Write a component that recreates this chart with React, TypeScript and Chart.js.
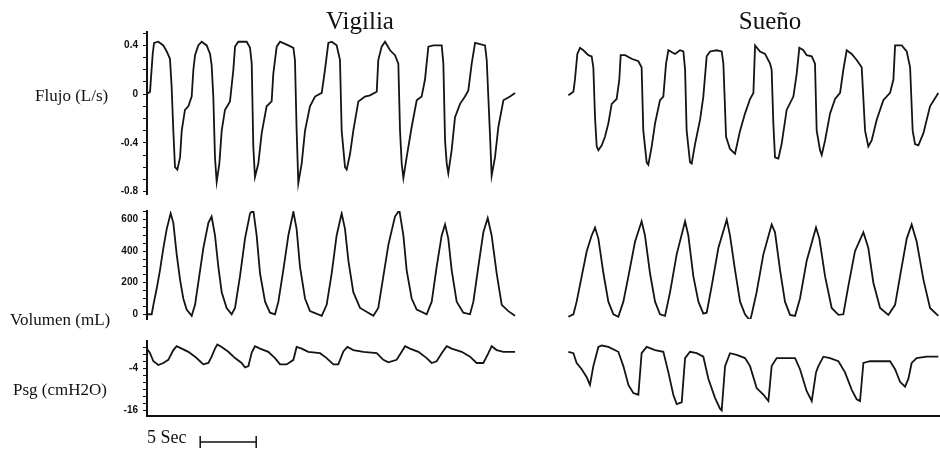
import React, { useEffect, useRef } from 'react';
import { Chart, registerables } from 'chart.js';

Chart.register(...registerables);

// ---------- DATA (time in seconds, value in axis units) ----------
const TIME_MAX = 70.8;
const SCALE_BAR_START = 4.75;
const SCALE_BAR_SECONDS = 5;

const flujoVigilia: [number, number][] = [
  [0, 0], [0.27, 0.02], [0.51, 0.33], [0.63, 0.42], [1.01, 0.43], [1.46, 0.4], [1.76, 0.35], [2.05, 0.29], [2.2, 0.06], [2.35, -0.3],
  [2.5, -0.6], [2.71, -0.62], [2.95, -0.52], [3.1, -0.3], [3.39, -0.13], [3.69, -0.1], [3.99, -0.02], [4.14, 0.2], [4.29, 0.32], [4.58, 0.4],
  [4.88, 0.43], [5.33, 0.4], [5.63, 0.33], [5.77, 0.24], [5.92, -0.02], [6.07, -0.52], [6.22, -0.72], [6.46, -0.57], [6.67, -0.3], [6.96, -0.13],
  [7.41, -0.06], [7.71, 0.2], [7.86, 0.39], [8.15, 0.43], [8.9, 0.43], [9.2, 0.38], [9.35, 0.25], [9.49, -0.43], [9.64, -0.68], [9.94, -0.57],
  [10.24, -0.32], [10.68, -0.1], [11.13, -0.06], [11.28, 0.17], [11.58, 0.39], [11.88, 0.43], [12.62, 0.4], [13.07, 0.38], [13.21, 0.28], [13.36, -0.3],
  [13.51, -0.73], [13.81, -0.57], [14.11, -0.3], [14.55, -0.1], [15.0, -0.02], [15.6, 0.01], [15.89, 0.2], [16.19, 0.42], [16.49, 0.43], [16.93, 0.4],
  [17.23, 0.28], [17.38, -0.3], [17.68, -0.6], [17.83, -0.62], [18.13, -0.49], [18.42, -0.3], [18.87, -0.06], [19.46, -0.02], [19.91, -0.01], [20.51, 0.02],
  [20.65, 0.28], [20.95, 0.39], [21.25, 0.43], [21.7, 0.36], [22.14, 0.32], [22.44, 0.25], [22.59, -0.3], [22.74, -0.57], [22.89, -0.69], [23.18, -0.52],
  [23.63, -0.27], [24.08, -0.05], [24.52, -0.02], [24.82, 0.12], [25.12, 0.39], [25.57, 0.4], [26.31, 0.4], [26.46, 0.25], [26.61, -0.38], [26.76, -0.57],
  [26.9, -0.65], [27.2, -0.46], [27.5, -0.19], [27.95, -0.08], [28.39, -0.02], [28.69, 0.03], [28.99, 0.25], [29.29, 0.42], [30.18, 0.4], [30.33, 0.28],
  [30.63, -0.35], [30.77, -0.67], [31.07, -0.52], [31.37, -0.27], [31.82, -0.05], [32.41, -0.02], [32.86, 0.01],
];

const flujoSueno: [number, number][] = [
  [37.62, -0.01], [38.07, 0.02], [38.21, 0.12], [38.42, 0.33], [38.66, 0.38], [38.96, 0.36], [39.4, 0.32], [39.7, 0.31], [39.85, 0.22], [40.0, -0.19],
  [40.15, -0.43], [40.3, -0.46], [40.6, -0.42], [40.89, -0.35], [41.19, -0.24], [41.49, -0.08], [41.93, -0.04], [42.17, 0.12], [42.29, 0.32], [42.68, 0.32],
  [43.27, 0.29], [43.87, 0.27], [44.16, 0.22], [44.31, -0.3], [44.61, -0.56], [44.76, -0.58], [45.06, -0.43], [45.36, -0.24], [45.8, -0.05], [46.1, -0.02],
  [46.34, 0.25], [46.55, 0.36], [47.14, 0.33], [47.59, 0.36], [47.89, 0.35], [48.04, 0.2], [48.18, -0.3], [48.48, -0.56], [48.63, -0.57], [48.93, -0.41],
  [49.38, -0.21], [49.67, -0.02], [49.97, 0.31], [50.27, 0.35], [50.86, 0.36], [51.31, 0.35], [51.46, 0.25], [51.7, -0.35], [52.05, -0.45], [52.5, -0.49],
  [52.95, -0.3], [53.39, -0.16], [53.84, -0.04], [54.14, 0.01], [54.29, 0.4], [54.73, 0.35], [55.18, 0.33], [55.63, 0.25], [55.77, 0.2], [55.92, -0.24],
  [56.07, -0.52], [56.37, -0.53], [56.66, -0.41], [57.11, -0.13], [57.71, -0.02], [58.01, 0.17], [58.24, 0.38], [58.6, 0.36], [58.9, 0.32], [59.35, 0.31],
  [59.64, 0.25], [59.79, -0.3], [60.09, -0.46], [60.24, -0.5], [60.54, -0.38], [60.98, -0.16], [61.43, -0.04], [61.88, 0.01], [62.17, 0.2], [62.47, 0.36],
  [62.92, 0.33], [63.36, 0.28], [63.81, 0.22], [64.11, -0.3], [64.4, -0.43], [64.7, -0.38], [65.15, -0.21], [65.74, -0.05], [66.34, 0.01], [66.64, 0.12],
  [66.79, 0.4], [67.38, 0.4], [67.83, 0.35], [68.13, 0.22], [68.36, -0.3], [68.57, -0.41], [68.87, -0.42], [69.32, -0.32], [69.91, -0.1], [70.65, 0.01],
];

const volumenVigilia: [number, number][] = [
  [0, 0], [0.42, 0], [0.57, 60], [0.86, 160], [1.16, 280], [1.46, 420], [1.76, 540], [2.11, 640], [2.35, 580], [2.65, 380],
  [2.95, 220], [3.24, 100], [3.54, 30], [3.99, -10], [4.29, 60], [4.58, 200], [5.03, 420], [5.48, 580], [5.77, 620], [6.07, 500],
  [6.37, 300], [6.67, 140], [7.11, 40], [7.56, 0], [7.86, 40], [8.3, 240], [8.75, 480], [9.2, 640], [9.49, 660], [9.79, 500],
  [10.09, 260], [10.54, 80], [10.98, 10], [11.43, 0], [11.73, 80], [12.17, 280], [12.62, 500], [13.07, 650], [13.36, 540], [13.66, 300],
  [14.11, 100], [14.55, 20], [15.6, -10], [16.04, 60], [16.49, 260], [16.93, 500], [17.38, 640], [17.68, 540], [17.98, 340], [18.42, 140],
  [19.02, 40], [20.21, -10], [20.65, 40], [21.1, 240], [21.55, 440], [22.14, 620], [22.53, 660], [22.89, 500], [23.18, 280], [23.63, 100],
  [24.08, 30], [24.97, 0], [25.42, 80], [25.86, 300], [26.31, 500], [26.61, 570], [26.9, 480], [27.2, 280], [27.65, 80], [28.24, 10],
  [28.84, 0], [29.14, 80], [29.58, 300], [30.03, 520], [30.42, 610], [30.77, 500], [31.22, 260], [31.67, 60], [32.26, 20], [32.86, -10],
];

const volumenSueno: [number, number][] = [
  [37.62, -16], [38.07, 0], [38.36, 80], [38.81, 240], [39.26, 400], [39.7, 500], [40.0, 550], [40.3, 480], [40.75, 260], [41.19, 80],
  [41.64, 0], [42.08, -16], [42.53, 80], [42.98, 240], [43.57, 460], [44.16, 590], [44.46, 500], [44.91, 260], [45.36, 80], [45.8, 0],
  [46.25, -10], [46.7, 140], [47.29, 380], [48.04, 590], [48.33, 500], [48.78, 240], [49.23, 80], [49.67, 4], [49.97, 10], [50.42, 180],
  [51.01, 420], [51.76, 600], [52.05, 500], [52.5, 280], [52.95, 80], [53.39, 0], [53.84, -40], [53.99, 0], [54.43, 140], [55.03, 380],
  [55.77, 570], [56.07, 520], [56.52, 280], [56.96, 80], [57.41, -4], [57.86, -10], [58.3, 100], [58.9, 340], [59.73, 550], [60.03, 480],
  [60.54, 240], [61.13, 40], [61.73, -4], [62.17, 0], [62.62, 180], [63.21, 400], [63.96, 520], [64.4, 420], [64.85, 200], [65.45, 40],
  [66.19, -4], [66.79, 60], [67.23, 240], [67.83, 480], [68.27, 570], [68.72, 460], [69.32, 220], [69.91, 40], [70.65, -10],
];

const psgVigilia: [number, number][] = [
  [0, 1.7], [0.27, 0.4], [0.57, -1.9], [1.01, -3.0], [1.46, -2.4], [1.9, -1.5], [2.35, 1.3], [2.65, 2.4], [3.1, 1.7], [3.69, 0.8],
  [4.29, -0.6], [4.73, -1.9], [5.03, -2.8], [5.48, -2.4], [5.77, -0.6], [6.07, 1.7], [6.28, 2.9], [6.67, 2.2], [7.26, 0.8], [7.86, -1.0],
  [8.45, -2.4], [8.75, -3.7], [9.05, -3.3], [9.35, 0.6], [9.64, 2.4], [10.09, 1.7], [10.83, 0.8], [11.43, -1.0], [11.88, -2.8], [12.47, -2.8],
  [13.07, -1.5], [13.36, 2.2], [13.81, 1.7], [14.4, 0.8], [15.45, 0.4], [16.04, -1.0], [16.64, -2.8], [17.08, -2.8], [17.53, 0.9], [17.89, 2.2],
  [18.42, 1.3], [19.32, 0.8], [20.51, 0.4], [21.1, -1.5], [21.55, -2.2], [22.29, -1.5], [22.74, 0.8], [23.04, 2.4], [23.48, 1.7], [24.23, 0.8],
  [24.97, -1.0], [25.42, -2.4], [25.86, -1.9], [26.31, 0.4], [26.76, 2.4], [27.2, 1.7], [28.1, 0.8], [28.84, -0.6], [29.43, -2.4], [30.03, -2.4],
  [30.48, 0.4], [30.77, 2.4], [31.22, 1.3], [31.82, 0.8], [32.86, 0.8],
];

const psgSueno: [number, number][] = [
  [37.62, 0.8], [38.07, 0.4], [38.36, -2.4], [38.81, -4.2], [39.26, -6.5], [39.55, -8.7], [39.85, -3.3], [40.3, 2.2], [40.6, 2.6], [41.19, 2.2],
  [42.08, 0.8], [42.53, -3.3], [42.98, -8.7], [43.42, -11.0], [43.87, -11.5], [44.16, 0.4], [44.61, 2.2], [45.36, 1.3], [46.1, 0.8], [46.55, -5.1],
  [46.99, -11.5], [47.29, -14.2], [47.74, -13.7], [48.04, -1.0], [48.48, 0.8], [49.08, 0.4], [49.67, -0.6], [50.12, -6.9], [50.71, -12.4], [51.16, -15.5],
  [51.31, -16.0], [51.61, -3.3], [52.05, 0.4], [52.65, -0.1], [53.39, -1.0], [53.84, -3.3], [54.43, -9.6], [55.03, -11.5], [55.48, -13.3], [55.77, -3.3],
  [56.22, -1.0], [57.11, -1.0], [57.86, -1.0], [58.3, -4.2], [58.9, -10.5], [59.35, -13.3], [59.73, -5.1], [59.94, -3.3], [60.39, -0.6], [60.98, -1.0],
  [61.73, -1.9], [62.32, -5.1], [62.92, -10.1], [63.36, -12.8], [63.66, -13.3], [63.96, -2.4], [64.55, -1.9], [65.45, -1.9], [66.34, -1.9], [66.79, -4.2],
  [67.23, -7.8], [67.68, -9.2], [67.98, -6.9], [68.27, -2.4], [68.72, -1.0], [69.61, -0.6], [70.65, -0.6],
];

// Axis ticks
const flujoLabels = [-0.8, -0.4, 0, 0.4];
const flujoMarks = [-0.8, -0.7, -0.6, -0.5, -0.4, -0.3, -0.2, -0.1, 0, 0.1, 0.2, 0.3, 0.4, 0.5];
const volumenLabels = [0, 200, 400, 600];
const volumenMarks = [0, 50, 100, 150, 200, 250, 300, 350, 400, 450, 500, 550, 600, 650];
const psgLabels = [-16, -4];
const psgMarks = [-16, -14, -12, -10, -8, -6, -4, -2, 0, 2];

// ---------- RENDERING ----------
const AXIS_WIDTH = 147;
const LINE_COLOR = '#141414';

type PanelProps = {
  top: number;
  height: number;
  padTop: number;
  padBottom: number;
  yMin: number;
  yMax: number;
  labels: number[];
  marks: number[];
  series: [number, number][][];
  bottomAxis?: boolean;
  scaleBar?: boolean;
};

const scaleBarPlugin = {
  id: 'scaleBar',
  afterDraw(chart: any) {
    const opts = chart.options.plugins.scaleBar;
    if (!opts || !opts.enabled) return;
    const xs = chart.scales.x;
    const ctx = chart.ctx;
    const x0 = xs.getPixelForValue(SCALE_BAR_START);
    const x1 = xs.getPixelForValue(SCALE_BAR_START + SCALE_BAR_SECONDS);
    const y = chart.chartArea.bottom + 26;
    ctx.save();
    ctx.strokeStyle = '#111';
    ctx.lineWidth = 1.5;
    ctx.beginPath();
    ctx.moveTo(x0, y);
    ctx.lineTo(x1, y);
    ctx.moveTo(x0, y - 6);
    ctx.lineTo(x0, y + 6);
    ctx.moveTo(x1, y - 6);
    ctx.lineTo(x1, y + 6);
    ctx.stroke();
    ctx.restore();
  },
};

function Panel(p: PanelProps) {
  const ref = useRef<HTMLCanvasElement | null>(null);
  useEffect(() => {
    if (!ref.current) return;
    const chart = new Chart(ref.current, {
      type: 'line',
      data: {
        datasets: p.series.map((s) => ({
          data: s.map(([x, y]) => ({ x, y })),
          borderColor: LINE_COLOR,
          borderWidth: 1.8,
          pointRadius: 0,
          tension: 0,
          fill: false,
        })),
      },
      options: {
        responsive: false,
        animation: false,
        events: [],
        layout: { padding: { top: p.padTop, bottom: p.padBottom, left: 0, right: 0 } },
        plugins: {
          legend: { display: false },
          tooltip: { enabled: false },
          // @ts-ignore
          scaleBar: { enabled: !!p.scaleBar },
        },
        scales: {
          x: {
            type: 'linear',
            min: 0,
            max: TIME_MAX,
            display: !!p.bottomAxis,
            ticks: { display: false },
            grid: { display: false, drawTicks: false },
            border: { display: true, color: '#111', width: 2 },
            afterFit: (s: any) => {
              s.height = 0;
            },
          },
          y: {
            type: 'linear',
            min: p.yMin,
            max: p.yMax,
            afterFit: (s: any) => {
              s.width = AXIS_WIDTH;
            },
            afterBuildTicks: (s: any) => {
              s.ticks = p.marks.map((v) => ({ value: v }));
            },
            ticks: {
              autoSkip: false,
              padding: 5,
              color: '#111',
              font: { family: 'Liberation Sans', size: 10, weight: 'bold' },
              callback: (v: any) => (p.labels.includes(v) ? String(v) : ''),
            },
            grid: {
              drawOnChartArea: false,
              drawTicks: true,
              tickLength: 4,
              color: '#111',
              tickWidth: 1,
            },
            border: { display: true, color: '#111', width: 2 },
          },
        },
      },
      plugins: [scaleBarPlugin],
    });
    return () => chart.destroy();
  }, []);
  return (
    <canvas
      ref={ref}
      width={940}
      height={p.height}
      style={{ position: 'absolute', left: 0, top: p.top, width: 940, height: p.height }}
    />
  );
}

const serif = '"Liberation Serif", "Times New Roman", serif';

function Label({ text, left, cy, size }: { text: string; left: number; cy: number; size: number }) {
  return (
    <div
      style={{
        position: 'absolute',
        left,
        top: cy,
        transform: 'translateY(-50%)',
        fontFamily: serif,
        fontSize: size,
        lineHeight: 1,
        color: '#111',
        whiteSpace: 'nowrap',
      }}
    >
      {text}
    </div>
  );
}

function Title({ text, cx, top }: { text: string; cx: number; top: number }) {
  return (
    <div
      style={{
        position: 'absolute',
        left: cx - 100,
        width: 200,
        top,
        textAlign: 'center',
        fontFamily: serif,
        fontSize: 25,
        lineHeight: 1,
        color: '#111',
      }}
    >
      {text}
    </div>
  );
}

export default function App() {
  return (
    <div style={{ position: 'fixed', left: 0, top: 0, width: 940, height: 449, background: '#fff', overflow: 'hidden' }}>
      <Panel
        top={0}
        height={205}
        padTop={32}
        padBottom={11}
        yMin={-0.82}
        yMax={0.51}
        labels={flujoLabels}
        marks={flujoMarks}
        series={[flujoVigilia, flujoSueno]}
      />
      <Panel
        top={200}
        height={130}
        padTop={10}
        padBottom={7}
        yMin={-30}
        yMax={655}
        labels={volumenLabels}
        marks={volumenMarks}
        series={[volumenVigilia, volumenSueno]}
      />
      <Panel
        top={330}
        height={119}
        padTop={7}
        padBottom={33}
        yMin={-17.6}
        yMax={3.9}
        labels={psgLabels}
        marks={psgMarks}
        series={[psgVigilia, psgSueno]}
        bottomAxis
        scaleBar
      />
      <Title text="Vigilia" cx={360} top={8} />
      <Title text="Sueño" cx={770} top={8} />
      <Label text="Flujo (L/s)" left={35} cy={95} size={17} />
      <Label text="Volumen (mL)" left={10} cy={319} size={17} />
      <Label text="Psg (cmH2O)" left={13} cy={389} size={17} />
      <Label text="5 Sec" left={147} cy={437} size={18} />
    </div>
  );
}
